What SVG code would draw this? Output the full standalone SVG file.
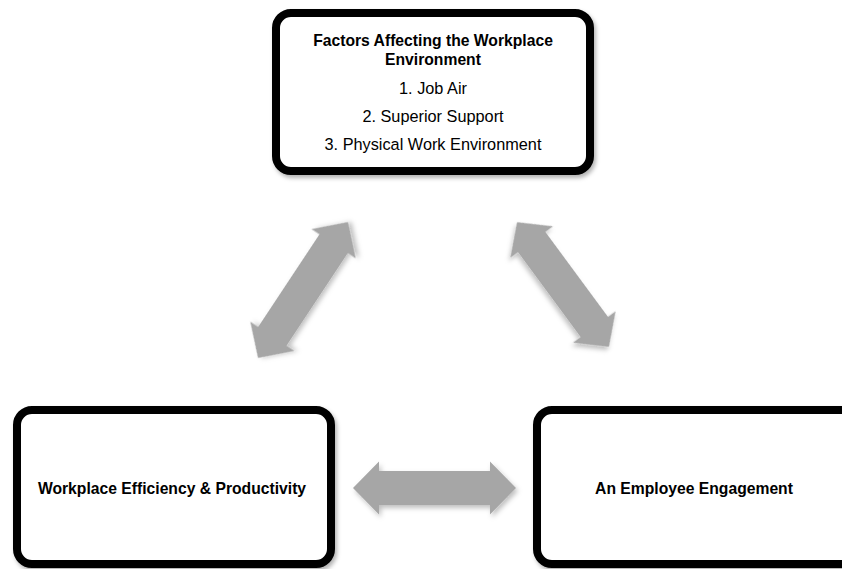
<svg xmlns="http://www.w3.org/2000/svg" xmlns:xlink="http://www.w3.org/1999/xlink" width="842" height="569" viewBox="0 0 842 569">
  <style>
    .box { fill: #ffffff; stroke: #000000; stroke-width: 8; filter: url(#shadow); }
    .arrow { fill: #a6a6a6; filter: url(#ashadow); }
    .t { font-family: "Liberation Sans", Arial, sans-serif; font-size: 16.3px; fill: #000000; text-anchor: middle; }
    .b { font-weight: bold; font-size: 15.7px; }
  </style>
  <defs>
    <filter id="shadow" x="-10%" y="-10%" width="130%" height="130%">
      <feDropShadow dx="2" dy="3" stdDeviation="2" flood-color="#000000" flood-opacity="0.3"/>
    </filter>
    <filter id="ashadow" x="-20%" y="-20%" width="150%" height="150%">
      <feDropShadow dx="2" dy="3" stdDeviation="2.5" flood-color="#000000" flood-opacity="0.25"/>
    </filter>
    <path id="dbl" d="M -81.5 0 L -55.5 -26.5 L -55.5 -17 L 55.5 -17 L 55.5 -26.5 L 81.5 0 L 55.5 26.5 L 55.5 17 L -55.5 17 L -55.5 26.5 Z"/>
  </defs>
  <rect width="842" height="569" fill="#ffffff"/>

  <g id="connectors">
    <use xlink:href="#dbl" href="#dbl" class="arrow" transform="translate(303,290) rotate(-56.5)"/>
    <use xlink:href="#dbl" href="#dbl" class="arrow" transform="translate(563,284.5) rotate(53.6) scale(0.95,1)"/>
    <use xlink:href="#dbl" href="#dbl" class="arrow" transform="translate(434.5,488)"/>
  </g>

  <g id="factors">
    <rect class="box" x="276" y="13" width="314" height="158" rx="15" ry="15"/>
    <text class="t b" x="433" y="46">Factors Affecting the Workplace</text>
    <text class="t b" x="433" y="65">Environment</text>
    <text class="t" x="433" y="94">1. Job Air</text>
    <text class="t" x="433" y="122">2. Superior Support</text>
    <text class="t" x="433" y="150">3. Physical Work Environment</text>
  </g>

  <g id="efficiency">
    <rect class="box" x="17" y="410" width="314" height="154" rx="15" ry="15"/>
    <text class="t b" x="172" y="494">Workplace Efficiency &amp; Productivity</text>
  </g>

  <g id="engagement">
    <rect class="box" x="537" y="410" width="340" height="154" rx="15" ry="15"/>
    <text class="t b" x="694" y="494">An Employee Engagement</text>
  </g>
</svg>
